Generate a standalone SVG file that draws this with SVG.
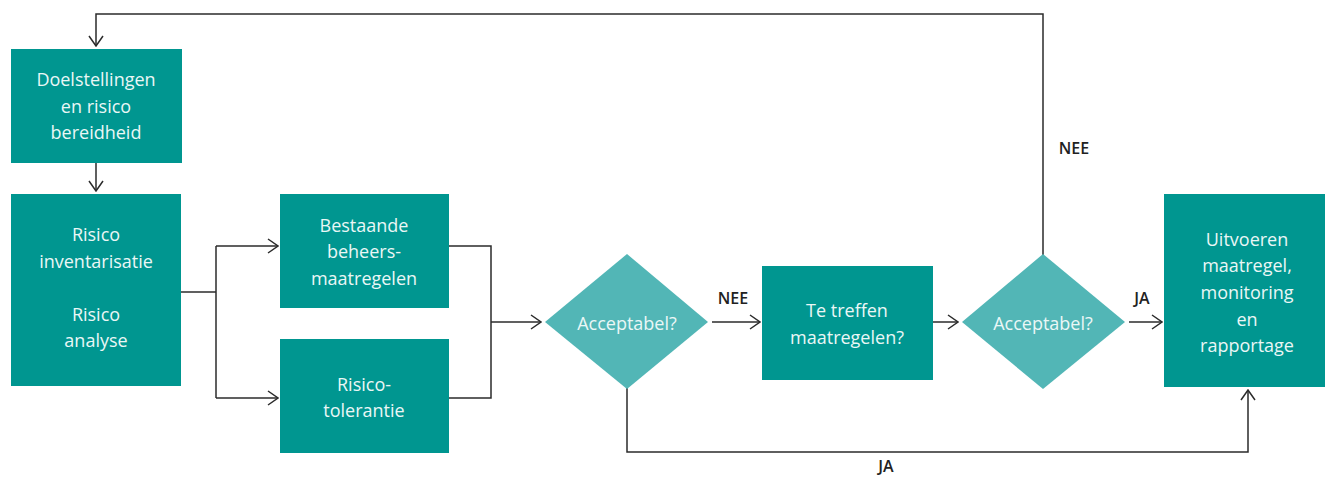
<svg xmlns="http://www.w3.org/2000/svg" width="1325" height="477" viewBox="0 0 1325 477">
<defs>
<marker id="arr" viewBox="0 0 12 16" refX="11" refY="8" markerWidth="12" markerHeight="16" markerUnits="userSpaceOnUse" orient="auto">
<path d="M1,1 L11,8 L1,15" fill="none" stroke="#2b2b2b" stroke-width="1.5"/>
</marker>
</defs>
<style>
.box{fill:#009690}
.dia{fill:#52b6b6}
.t{font-family:"Open Sans","Liberation Sans",sans-serif;font-size:18px;fill:#eaf7f6;text-anchor:middle}
.lbl{font-family:"Open Sans","Liberation Sans",sans-serif;font-size:16px;font-weight:600;fill:#222;text-anchor:middle}
.c{fill:none;stroke:#2b2b2b;stroke-width:1.5}
</style>
<rect width="1325" height="477" fill="#fff"/>
<g id="connectors">
<polyline class="c" points="1043,255 1043,14 96,14 96,46" marker-end="url(#arr)"/>
<line class="c" x1="96" y1="163" x2="96" y2="191" marker-end="url(#arr)"/>
<polyline class="c" points="181,292 216,292"/>
<polyline class="c" points="216,246 216,398"/>
<line class="c" x1="216" y1="246" x2="278" y2="246" marker-end="url(#arr)"/>
<line class="c" x1="216" y1="398" x2="278" y2="398" marker-end="url(#arr)"/>
<polyline class="c" points="449,246 491,246 491,398 449,398"/>
<line class="c" x1="491" y1="322" x2="541" y2="322" marker-end="url(#arr)"/>
<line class="c" x1="712" y1="322" x2="760" y2="322" marker-end="url(#arr)"/>
<line class="c" x1="933" y1="322" x2="958" y2="322" marker-end="url(#arr)"/>
<line class="c" x1="1129" y1="322" x2="1162" y2="322" marker-end="url(#arr)"/>
<polyline class="c" points="627,388 627,452 1248,452 1248,390" marker-end="url(#arr)"/>
<text class="lbl" x="733" y="304">NEE</text>
<text class="lbl" x="1142" y="304">JA</text>
<text class="lbl" x="1074" y="154">NEE</text>
<text class="lbl" x="886" y="472">JA</text>
</g>
<g id="n1"><rect class="box" x="11" y="49" width="171" height="114"/>
<text class="t" x="96" y="86">Doelstellingen</text><text class="t" x="96" y="113">en risico</text><text class="t" x="96" y="139">bereidheid</text></g>
<g id="n2"><rect class="box" x="11" y="194" width="170" height="192"/>
<text class="t" x="96" y="241">Risico</text><text class="t" x="96" y="268">inventarisatie</text><text class="t" x="96" y="321">Risico</text><text class="t" x="96" y="347">analyse</text></g>
<g id="n3"><rect class="box" x="280" y="194" width="169" height="114"/>
<text class="t" x="364" y="232">Bestaande</text><text class="t" x="364" y="258">beheers-</text><text class="t" x="364" y="285">maatregelen</text></g>
<g id="n4"><rect class="box" x="280" y="339" width="169" height="114"/>
<text class="t" x="364" y="391">Risico-</text><text class="t" x="364" y="417">tolerantie</text></g>
<g id="d1"><polygon class="dia" points="545,322 627,254 708,322 627,389"/>
<text class="t" x="627" y="330">Acceptabel?</text></g>
<g id="n5"><rect class="box" x="762" y="266" width="171" height="114"/>
<text class="t" x="847" y="317">Te treffen</text><text class="t" x="847" y="344">maatregelen?</text></g>
<g id="d2"><polygon class="dia" points="962,322 1043,254 1125,322 1043,389"/>
<text class="t" x="1043" y="330">Acceptabel?</text></g>
<g id="n6"><rect class="box" x="1164" y="194" width="161" height="193"/>
<text class="t" x="1247" y="246">Uitvoeren</text><text class="t" x="1247" y="272">maatregel,</text><text class="t" x="1247" y="299">monitoring</text><text class="t" x="1247" y="326">en</text><text class="t" x="1247" y="352">rapportage</text></g>
</svg>
